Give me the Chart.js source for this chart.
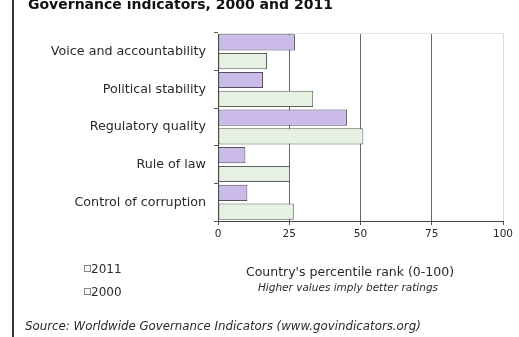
<!DOCTYPE html>
<html>
<head>
<meta charset="utf-8">
<script src="https://cdn.jsdelivr.net/npm/chart.js@4"></script>
<style>
  html, body { margin: 0; padding: 0; background: #fff; }
  #wrap { width: 519px; height: 337px; position: relative; }
</style>
</head>
<body>
<div id="wrap"><canvas id="chart"></canvas></div>
<script>
// data
const indicators = ["Voice and accountability", "Political stability", "Regulatory quality", "Rule of law", "Control of corruption"];
const rank2011 = [27.0, 15.8, 45.3, 9.6, 10.3];
const rank2000 = [17.2, 33.4, 51.0, 25.3, 26.6];
const xTicks = [0, 25, 50, 75, 100];

const FONT = "'DejaVu Sans', Verdana, sans-serif";

// frame, title and the notes under the chart
const decor = {
  id: "decor",
  beforeDraw(chart) {
    const c = chart.ctx;
    c.save();
    c.fillStyle = "#fff";
    c.fillRect(0, 0, chart.width, chart.height);
    c.strokeStyle = "#333";
    c.lineWidth = 2;
    c.beginPath();
    c.moveTo(13, 0);
    c.lineTo(13, chart.height);
    c.stroke();
    c.restore();
  },
  afterDraw(chart) {
    const c = chart.ctx;
    const a = chart.chartArea;
    c.save();
    // faint top edge of the plot
    c.strokeStyle = "#e2e2e2";
    c.lineWidth = 1;
    c.beginPath();
    c.moveTo(a.left, a.top + 0.5);
    c.lineTo(a.right, a.top + 0.5);
    c.stroke();

    c.fillStyle = "#111";
    c.textBaseline = "alphabetic";
    c.textAlign = "left";
    c.font = "bold 14px " + FONT;
    c.fillText("Governance indicators, 2000 and 2011", 28, 9);

    // legend
    const ds = chart.data.datasets;
    [269, 292].forEach((y, i) => {
      c.fillStyle = "#fafafa";
      c.strokeStyle = "#888";
      c.lineWidth = 1;
      c.fillRect(84.5, y - 3.5, 6, 6);
      c.strokeRect(84.5, y - 3.5, 6, 6);
      c.fillStyle = "#2a2a2a";
      c.font = "12px " + FONT;
      c.textBaseline = "middle";
      c.fillText(ds[i].label, 91, y + 0.5);
    });

    c.textAlign = "center";
    c.font = "12.5px " + FONT;
    c.fillText("Country's percentile rank (0-100)", 350, 273);
    c.font = "italic 10.5px " + FONT;
    c.fillText("Higher values imply better ratings", 348, 288);

    c.textAlign = "left";
    c.font = "italic 11.8px " + FONT;
    c.fillText("Source: Worldwide Governance Indicators (www.govindicators.org)", 25, 327);
    c.restore();
  }
};

new Chart(document.getElementById("chart"), {
  type: "bar",
  data: {
    labels: indicators,
    datasets: [
      {
        label: "2011",
        data: rank2011,
        backgroundColor: "#cbbbe8",
        borderColor: "#55505f",
        borderWidth: 1,
        borderSkipped: false,
        barPercentage: 0.86,
        categoryPercentage: 1
      },
      {
        label: "2000",
        data: rank2000,
        backgroundColor: "#e6f1e2",
        borderColor: "#58625c",
        borderWidth: 1,
        borderSkipped: false,
        barPercentage: 0.86,
        categoryPercentage: 1
      }
    ]
  },
  options: {
    indexAxis: "y",
    responsive: true,
    maintainAspectRatio: false,
    animation: false,
    layout: { padding: { left: 0, right: 16, top: 33, bottom: 96 } },
    plugins: {
      legend: { display: false },
      tooltip: { enabled: false }
    },
    scales: {
      x: {
        min: 0,
        max: 100,
        afterFit(scale) { scale.height = 20; },
        afterBuildTicks(scale) { scale.ticks = xTicks.map(v => ({ value: v })); },
        border: { display: true, color: "#444", width: 1 },
        grid: {
          color: ctx => ctx.tick && ctx.tick.value === 100 ? "#dedede" : "#666",
          tickColor: "#555",
          tickLength: 4,
          lineWidth: 1
        },
        ticks: {
          color: "#2a2a2a",
          padding: 3,
          font: { family: FONT, size: 10.5 }
        }
      },
      y: {
        afterFit(scale) { scale.width = 218; },
        border: { display: true, color: "#444", width: 1 },
        grid: {
          offset: true,
          drawOnChartArea: false,
          tickColor: "#555",
          tickLength: 4
        },
        ticks: {
          color: "#2a2a2a",
          padding: 8,
          font: { family: FONT, size: 12.7 }
        }
      }
    }
  },
  plugins: [decor]
});
</script>
</body>
</html>
